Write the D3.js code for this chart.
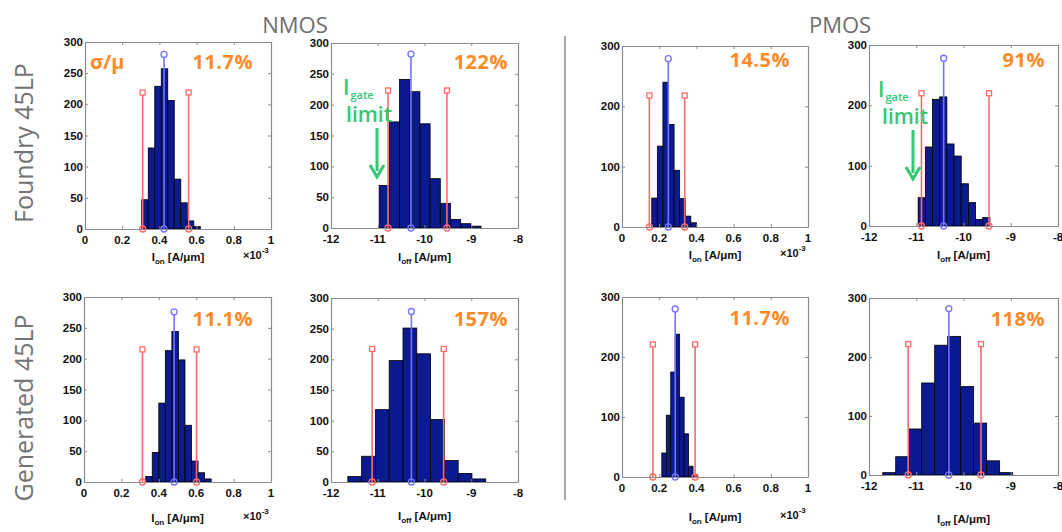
<!DOCTYPE html>
<html>
<head>
<meta charset="utf-8">
<script src="https://cdn.jsdelivr.net/npm/d3@7.9.0/dist/d3.min.js"></script>
<style>
  body { margin: 0; background: #fff; }
  svg { display: block; }
</style>
</head>
<body>
<div id="chart"></div>
<script>
// ---- data ----
const rowNames = ["Foundry 45LP", "Generated 45LP"];
const deviceNames = ["NMOS", "PMOS"];
const ionTicks = [0, 0.2, 0.4, 0.6, 0.8, 1];
const ioffTicks = [-12, -11, -10, -9, -8];
const nmosYTicks = [0, 50, 100, 150, 200, 250, 300];
const pmosYTicks = [0, 100, 200, 300];

// counts per bin, [first bin edge, bin width], [mean, mean-, mean+], [mean marker, side marker]
const fNmosIonCounts = [47, 130, 229, 257, 206, 80, 42, 13, 4];
const fNmosIonBins = [0.305, 0.035];
const fNmosIonStats = [0.425, 0.31, 0.557];
const fNmosIonTops = [280, 219];
const fNmosIonSpread = "11.7%";

const fNmosIoffCounts = [69, 172, 241, 221, 169, 80, 40, 14, 7, 3];
const fNmosIoffBins = [-10.97, 0.218];
const fNmosIoffStats = [-10.29, -10.78, -9.52];
const fNmosIoffTops = [282, 223];
const fNmosIoffSpread = "122%";

const fPmosIonCounts = [48, 134, 240, 170, 94, 47, 18, 7];
const fPmosIonBins = [0.16, 0.030];
const fPmosIonStats = [0.249, 0.147, 0.337];
const fPmosIonTops = [279, 218];
const fPmosIonSpread = "14.5%";

const fPmosIoffCounts = [47, 131, 210, 214, 136, 116, 70, 39, 11, 14];
const fPmosIoffBins = [-10.96, 0.152];
const fPmosIoffStats = [-10.42, -10.89, -9.46];
const fPmosIoffTops = [278, 220];
const fPmosIoffSpread = "91%";

const gNmosIonCounts = [9, 48, 128, 213, 244, 198, 92, 34, 15, 5];
const gNmosIonBins = [0.33, 0.035];
const gNmosIonStats = [0.482, 0.3125, 0.602];
const gNmosIonTops = [276, 215];
const gNmosIonSpread = "11.1%";

const gNmosIoffCounts = [9, 42, 118, 198, 251, 209, 102, 35, 14, 5];
const gNmosIoffBins = [-11.64, 0.295];
const gNmosIoffStats = [-10.28, -11.12, -9.59];
const gNmosIoffTops = [278, 217];
const gNmosIoffSpread = "157%";

const gPmosIonCounts = [40, 103, 175, 238, 133, 72, 18, 4];
const gPmosIonBins = [0.214, 0.024];
const gPmosIonStats = [0.286, 0.166, 0.393];
const gPmosIonTops = [280, 221];
const gPmosIonSpread = "11.7%";

const gPmosIoffCounts = [4, 31, 78, 156, 220, 235, 150, 88, 24, 4];
const gPmosIoffBins = [-11.71, 0.275];
const gPmosIoffStats = [-10.31, -11.17, -9.63];
const gPmosIoffTops = [282, 222];
const gPmosIoffSpread = "118%";

// ---- layout ----
const width = 1062;
const height = 532;

const panels = [
  { counts: fNmosIonCounts, bins: fNmosIonBins, stats: fNmosIonStats, tops: fNmosIonTops, spread: fNmosIonSpread,
    kind: "on", yTicks: nmosYTicks, box: [85, 42, 186, 187], labelY: 261, spreadPos: [253, 69], sigma: true },
  { counts: fNmosIoffCounts, bins: fNmosIoffBins, stats: fNmosIoffStats, tops: fNmosIoffTops, spread: fNmosIoffSpread,
    kind: "off", yTicks: nmosYTicks, box: [331, 43, 187, 185], labelY: 261, spreadPos: [508, 69], gate: [343, 95, 377] },
  { counts: fPmosIonCounts, bins: fPmosIonBins, stats: fPmosIonStats, tops: fPmosIonTops, spread: fPmosIonSpread,
    kind: "on", yTicks: pmosYTicks, box: [622, 46, 186, 181], labelY: 259, spreadPos: [790, 67] },
  { counts: fPmosIoffCounts, bins: fPmosIoffBins, stats: fPmosIoffStats, tops: fPmosIoffTops, spread: fPmosIoffSpread,
    kind: "off", yTicks: pmosYTicks, box: [869, 45, 189, 181], labelY: 259, spreadPos: [1045, 67], gate: [878, 97, 913] },
  { counts: gNmosIonCounts, bins: gNmosIonBins, stats: gNmosIonStats, tops: gNmosIonTops, spread: gNmosIonSpread,
    kind: "on", yTicks: nmosYTicks, box: [84, 297, 187, 185], labelY: 522, spreadPos: [253, 326] },
  { counts: gNmosIoffCounts, bins: gNmosIoffBins, stats: gNmosIoffStats, tops: gNmosIoffTops, spread: gNmosIoffSpread,
    kind: "off", yTicks: nmosYTicks, box: [331, 298, 187, 184], labelY: 520, spreadPos: [508, 326] },
  { counts: gPmosIonCounts, bins: gPmosIonBins, stats: gPmosIonStats, tops: gPmosIonTops, spread: gPmosIonSpread,
    kind: "on", yTicks: pmosYTicks, box: [622, 297, 186, 180], labelY: 521, spreadPos: [790, 325] },
  { counts: gPmosIoffCounts, bins: gPmosIoffBins, stats: gPmosIoffStats, tops: gPmosIoffTops, spread: gPmosIoffSpread,
    kind: "off", yTicks: pmosYTicks, box: [869, 298, 189, 177], labelY: 523, spreadPos: [1045, 326] },
];

const orange = "#ff8a26";
const green = "#33c874";
const barFill = "#0b1a8e";
const redStem = "#ff6a6a";
const blueStem = "#7373ff";
const frameColor = "#8c8c8c";
const tickFont = "'Liberation Sans', Arial, sans-serif";
const textFont = "'Open Sans', 'Noto Sans', sans-serif";

const svg = d3.select("#chart").append("svg")
  .attr("width", width)
  .attr("height", height)
  .attr("viewBox", `0 0 ${width} ${height}`);

// headings and row labels
svg.selectAll("text.device")
  .data(deviceNames)
  .join("text")
  .attr("class", "device")
  .attr("x", (d, i) => i === 0 ? 295 : 840)
  .attr("y", 33)
  .attr("text-anchor", "middle")
  .attr("font-family", textFont)
  .attr("font-size", 22)
  .attr("fill", "#6e6e6e")
  .text(d => d);

svg.selectAll("text.row")
  .data(rowNames)
  .join("text")
  .attr("class", "row")
  .attr("transform", (d, i) => `translate(33, ${i === 0 ? 143 : 408}) rotate(-90)`)
  .attr("text-anchor", "middle")
  .attr("font-family", textFont)
  .attr("font-size", 25)
  .attr("fill", "#747474")
  .text(d => d);

// divider between NMOS and PMOS
svg.append("line")
  .attr("x1", 565).attr("x2", 565)
  .attr("y1", 36).attr("y2", 500)
  .attr("stroke", "#a8a8a8")
  .attr("stroke-width", 2);

function drawPanel(p) {
  const [left, top, w, h] = p.box;
  const xDomain = p.kind === "on" ? [0, 1] : [-12, -8];
  const xTicks = p.kind === "on" ? ionTicks : ioffTicks;

  const x = d3.scaleLinear().domain(xDomain).range([left, left + w]);
  const y = d3.scaleLinear().domain([0, 300]).range([top + h, top]);

  const g = svg.append("g");

  // histogram bars
  const bars = p.counts.map((c, i) => ({
    x0: p.bins[0] + i * p.bins[1],
    x1: p.bins[0] + (i + 1) * p.bins[1],
    c
  }));
  g.append("g").selectAll("rect")
    .data(bars)
    .join("rect")
    .attr("x", d => x(d.x0))
    .attr("width", d => x(d.x1) - x(d.x0))
    .attr("y", d => y(d.c))
    .attr("height", d => y(0) - y(d.c))
    .attr("fill", barFill)
    .attr("stroke", "#000")
    .attr("stroke-width", 0.8);

  // frame and ticks (box on, ticks inward on all sides)
  const tickLen = 3;
  const frameAxes = [
    { axis: d3.axisBottom(x), tr: `translate(0, ${top + h})` },
    { axis: d3.axisTop(x), tr: `translate(0, ${top})` },
    { axis: d3.axisLeft(y), tr: `translate(${left}, 0)` },
    { axis: d3.axisRight(y), tr: `translate(${left + w}, 0)` }
  ];
  frameAxes.forEach((a, idx) => {
    const isX = idx < 2;
    const ax = a.axis
      .tickValues(isX ? xTicks : p.yTicks)
      .tickSize(-tickLen)
      .tickSizeOuter(0)
      .tickFormat("");
    const ag = g.append("g").attr("transform", a.tr).call(ax);
    ag.select(".domain").attr("stroke", frameColor).attr("stroke-width", 1.2);
    ag.selectAll(".tick line").attr("stroke", frameColor);
  });

  // tick labels
  g.append("g").selectAll("text")
    .data(xTicks)
    .join("text")
    .attr("x", d => x(d))
    .attr("y", top + h + 15)
    .attr("text-anchor", "middle")
    .attr("font-family", tickFont)
    .attr("font-weight", "bold")
    .attr("font-size", 11.5)
    .attr("fill", "#111")
    .text(d => d);

  g.append("g").selectAll("text")
    .data(p.yTicks)
    .join("text")
    .attr("x", left - 2)
    .attr("y", d => y(d))
    .attr("dy", "0.35em")
    .attr("text-anchor", "end")
    .attr("font-family", tickFont)
    .attr("font-weight", "bold")
    .attr("font-size", 11.5)
    .attr("fill", "#111")
    .text(d => d);

  // stems: mean (blue) and spread limits (red)
  const stems = [
    { v: p.stats[1], top: p.tops[1], color: redStem, shape: "square" },
    { v: p.stats[2], top: p.tops[1], color: redStem, shape: "square" },
    { v: p.stats[0], top: p.tops[0], color: blueStem, shape: "circle" }
  ];
  const sg = g.append("g").selectAll("g").data(stems).join("g");
  sg.append("line")
    .attr("x1", d => x(d.v)).attr("x2", d => x(d.v))
    .attr("y1", y(0)).attr("y2", d => y(d.top))
    .attr("stroke", d => d.color)
    .attr("stroke-width", 1.6);
  sg.append("circle")
    .attr("cx", d => x(d.v)).attr("cy", y(0))
    .attr("r", 3)
    .attr("fill", "none")
    .attr("stroke", d => d.color)
    .attr("stroke-width", 1.3);
  sg.each(function (d) {
    const s = d3.select(this);
    if (d.shape === "square") {
      s.append("rect")
        .attr("x", x(d.v) - 2.5).attr("y", y(d.top) - 2.5)
        .attr("width", 5).attr("height", 5)
        .attr("fill", "#fff")
        .attr("stroke", d.color)
        .attr("stroke-width", 1.3);
    } else {
      s.append("circle")
        .attr("cx", x(d.v)).attr("cy", y(d.top))
        .attr("r", 3)
        .attr("fill", "#fff")
        .attr("stroke", d.color)
        .attr("stroke-width", 1.3);
    }
  });

  // spread label
  g.append("text")
    .attr("x", p.spreadPos[0])
    .attr("y", p.spreadPos[1])
    .attr("text-anchor", "end")
    .attr("font-family", textFont)
    .attr("font-weight", "bold")
    .attr("font-size", 20)
    .attr("letter-spacing", 0.5)
    .attr("fill", orange)
    .text(p.spread);

  if (p.sigma) {
    g.append("text")
      .attr("x", left + 5)
      .attr("y", p.spreadPos[1])
      .attr("font-family", textFont)
      .attr("font-weight", "bold")
      .attr("font-size", 20)
      .attr("fill", orange)
      .text("σ/μ");
  }

  // gate leakage limit annotation
  if (p.gate) {
    const [gx, gy, ax] = p.gate;
    const t = g.append("text")
      .attr("x", gx)
      .attr("y", gy)
      .attr("font-family", textFont)
      .attr("font-weight", 600)
      .attr("font-size", 21)
      .attr("fill", green);
    t.append("tspan").text("I");
    t.append("tspan").attr("font-size", 11).attr("dy", 4).attr("dx", 1).text("gate");
    g.append("text")
      .attr("x", ax - 8)
      .attr("y", gy + 27)
      .attr("text-anchor", "middle")
      .attr("font-family", textFont)
      .attr("font-weight", 600)
      .attr("font-size", 21)
      .attr("fill", green)
      .text("limit");
    g.append("line")
      .attr("x1", ax).attr("x2", ax)
      .attr("y1", gy + 33).attr("y2", gy + 76)
      .attr("stroke", green)
      .attr("stroke-width", 3);
    g.append("path")
      .attr("d", `M${ax - 7},${gy + 70} L${ax},${gy + 82} L${ax + 7},${gy + 70}`)
      .attr("fill", "none")
      .attr("stroke", green)
      .attr("stroke-width", 3);
  }

  // axis label
  const lbl = g.append("text")
    .attr("x", left + w / 2)
    .attr("y", p.labelY)
    .attr("text-anchor", "middle")
    .attr("font-family", tickFont)
    .attr("font-weight", "bold")
    .attr("font-size", 11.5)
    .attr("fill", "#111");
  lbl.append("tspan").text("I");
  lbl.append("tspan").attr("font-size", 8).attr("dy", 3).text(p.kind);
  lbl.append("tspan").attr("dy", -3).text(" [A/μm]");

  if (p.kind === "on") {
    const ex = g.append("text")
      .attr("x", left + w - 28)
      .attr("y", p.labelY - 2)
      .attr("font-family", tickFont)
      .attr("font-weight", "bold")
      .attr("font-size", 11)
      .attr("fill", "#111");
    ex.append("tspan").text("×10");
    ex.append("tspan").attr("font-size", 8).attr("dy", -6).text("-3");
  }
}

panels.forEach(drawPanel);
</script>
</body>
</html>
